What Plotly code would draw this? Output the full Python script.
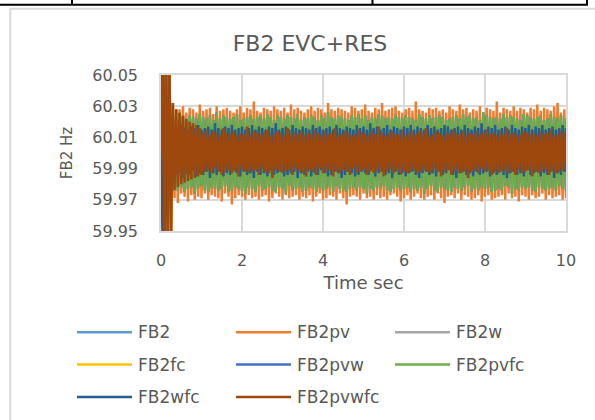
import numpy as np
import plotly.graph_objects as go

# Frequency deviation from 60 Hz, in mHz.
# Samples are evenly spaced over 0..10 s.
T_END = 10.0

FB2PV_MHZ = [
    0, 70, -80, 60, -50, 45, -60, 31, -29, 27, -32, 28, -26, 30, -28, 26, -31, 29, -27, 28,
    -30, 26, -28, 31, -29, 27, -26, 28, -30, 29, -27, 25, -28, 30, -29, 27, -31, 28, -26, 29,
    -28, 27, -33, 26, -29, 28, -27, 30, -28, 26, -30, 29, -27, 28, -29, 33, -28, 27, -30, 26,
    -28, 29, -27, 28, -31, 27, -29, 30, -26, 28, -28, 27, -30, 29, -27, 26, -29, 31, -28, 28,
    -27, 29, -30, 27, -28, 26, -29, 28, -27, 30, -31, 27, -28, 29, -26, 28, -30, 26, -29, 32,
    -27, 28, -28, 27, -30, 29, -26, 28, -29, 27, -33, 26, -28, 30, -27, 29, -28, 27, -30, 28,
    -26, 31, -29, 27, -28, 26, -30, 29, -27, 28, -29, 32, -28, 27, -30, 28, -27, 29, -26, 30,
    -28, 27, -31, 26, -29, 28, -27, 29, -30, 27, -28, 33, -26, 28, -29, 27, -30, 26, -28, 29,
    -27, 28, -30, 29, -26, 27, -29, 28, -32, 26, -28, 30, -27, 28, -29, 27, -26, 31, -30, 28,
    -27, 29, -28, 26, -30, 28, -29, 27, -27, 30, -31, 26, -28, 29, -27, 28, -30, 27, -29, 33,
    -28, 26, -27, 29, -30, 28, -26, 27, -29, 30, -28, 27, -31, 29, -27, 28, -28, 26, -30, 29,
    -27, 28, -29, 31, -28, 27, -26, 29, -30, 28, -27, 27, -29, 30, -28, 32, -27, 26, -30, 28,
    -29,
]
FB2PVFC_MHZ = [
    0, 60, -40, 55, -30, 45, -26, 24, -23, 22, -24, 25, -22, 23, -25, 21, -23, 24, -22, 23,
    -26, 22, -23, 25, -21, 23, -24, 22, -25, 24, -22, 21, -23, 26, -24, 22, -23, 24, -21, 23,
    -25, 22, -24, 23, -22, 25, -23, 21, -24, 22, -26, 23, -22, 24, -23, 22, -25, 23, -21, 24,
    -24, 22, -23, 25, -22, 23, -24, 21, -25, 24, -22, 23, -23, 22, -26, 24, -21, 23, -24, 22,
    -23, 25, -22, 21, -25, 23, -24, 22, -22, 24, -23, 23, -25, 21, -22, 24, -24, 22, -23, 26,
    -22, 23, -25, 22, -21, 24, -23, 23, -24, 22, -25, 21, -23, 24, -22, 23, -24, 25, -22, 22,
    -23, 24, -26, 21, -23, 23, -24, 22, -22, 25, -23, 24, -21, 22, -24, 23, -25, 22, -23, 24,
    -22, 23, -24, 22, -23, 24, -22, 23, -25, 22, -23, 21, -24, 25, -22, 23, -26, 22, -23, 24,
    -21, 22, -24, 23, -25, 24, -22, 23, -23, 21, -24, 22, -25, 23, -22, 24, -23, 22, -24, 25,
    -22, 23, -21, 24, -25, 22, -23, 23, -24, 21, -22, 26, -23, 24, -22, 23, -25, 22, -24, 23,
    -23, 22, -24, 25, -21, 23, -22, 24, -26, 23, -23, 22, -24, 21, -22, 25, -23, 24, -22, 23,
    -24, 22, -25, 23, -22, 24, -23, 21, -24, 22, -23, 25, -22, 23, -24, 22, -21, 24, -23, 22,
    -24,
]
FB2WFC_MHZ = [
    0, -60, 40, -30, 18, -15, 16, -13, 17, -14, 15, -12, 18, -16, 16, -13, 15, -14, 17, -11,
    16, -15, 18, -13, 15, -14, 16, -12, 17, -16, 15, -13, 19, -14, 16, -12, 15, -15, 17, -13,
    16, -14, 18, -11, 15, -13, 16, -15, 17, -12, 15, -14, 16, -13, 18, -16, 15, -12, 17, -14,
    16, -13, 15, -15, 17, -11, 16, -14, 19, -13, 15, -12, 16, -15, 17, -14, 15, -13, 18, -12,
    16, -16, 15, -13, 17, -14, 16, -12, 15, -15, 18, -13, 16, -14, 17, -11, 15, -13, 16, -15,
    17, -14, 15, -12, 18, -13, 16, -16, 15, -14, 17, -12, 16, -13, 15, -15, 18, -14, 16, -12,
    17, -13, 15, -14, 19, -11, 16, -15, 17, -13, 15, -12, 16, -14, 18, -13, 15, -16, 17, -12,
    16, -14, 15, -13, 17, -15, 16, -13, 18, -12, 15, -14, 17, -16, 16, -13, 15, -12, 18, -14,
    16, -13, 17, -15, 15, -12, 16, -14, 18, -13, 17, -11, 15, -14, 16, -16, 17, -13, 15, -12,
    18, -14, 16, -13, 15, -15, 17, -12, 16, -14, 19, -13, 15, -12, 17, -15, 16, -13, 18, -14,
    15, -12, 16, -14, 17, -16, 15, -13, 18, -12, 16, -14, 15, -13, 17, -15, 16, -11, 18, -14,
    15, -13, 17, -12, 16, -15, 18, -13, 15, -14, 16, -12, 17, -16, 15, -13, 16, -14, 18, -12,
    16,
]
FB2PVWFC_MHZ = [
    0, 90, -90, 80, -70, 60, -50, 32, -24, 28, -22, 26, -20, 24, -19, 22, -18, 20, -17, 19,
    -16, 18, -15, 16, -14, 13, -12, 15, -11, 12, -13, 14, -10, 13, -12, 11, -14, 16, -12, 13,
    -11, 12, -13, 14, -12, 11, -15, 13, -10, 12, -12, 17, -13, 11, -12, 14, -11, 13, -14, 12,
    -10, 13, -12, 15, -13, 11, -16, 12, -11, 14, -12, 13, -13, 11, -12, 16, -11, 12, -14, 13,
    -10, 12, -12, 14, -13, 11, -15, 13, -11, 12, -12, 15, -14, 13, -10, 11, -13, 14, -12, 12,
    -11, 13, -15, 16, -12, 11, -13, 12, -11, 14, -12, 13, -14, 11, -10, 12, -13, 15, -12, 13,
    -11, 12, -14, 11, -12, 14, -13, 12, -11, 17, -12, 13, -15, 11, -12, 13, -10, 14, -13, 12,
    -11, 12, -14, 15, -12, 11, -13, 13, -12, 14, -11, 12, -13, 14, -12, 13, -11, 16, -12, 11,
    -13, 12, -10, 14, -12, 13, -15, 11, -12, 13, -11, 12, -14, 15, -12, 13, -11, 12, -13, 14,
    -12, 11, -16, 13, -12, 12, -11, 14, -13, 12, -10, 13, -12, 15, -11, 12, -14, 13, -12, 11,
    -13, 14, -12, 12, -11, 16, -13, 12, -12, 13, -14, 11, -10, 12, -13, 14, -12, 13, -11, 12,
    -15, 13, -12, 11, -13, 14, -12, 12, -11, 13, -14, 15, -12, 11, -13, 12, -12, 14, -11, 13,
    -12,
]

SERIES = ["FB2", "FB2pv", "FB2w", "FB2fc", "FB2pvw", "FB2pvfc", "FB2wfc", "FB2pvwfc"]
# FB2, FB2w, FB2fc sit completely under FB2pvwfc and FB2pvw under FB2pvfc,
# so nothing of them can be read; they are taken as equal to the trace on top.
SERIES_MHZ = {
    "FB2": FB2PVWFC_MHZ,
    "FB2pv": FB2PV_MHZ,
    "FB2w": FB2PVWFC_MHZ,
    "FB2fc": FB2PVWFC_MHZ,
    "FB2pvw": FB2PVFC_MHZ,
    "FB2pvfc": FB2PVFC_MHZ,
    "FB2wfc": FB2WFC_MHZ,
    "FB2pvwfc": FB2PVWFC_MHZ,
}
COLORS = {
    "FB2": "#5B9BD5",
    "FB2pv": "#ED7D31",
    "FB2w": "#A5A5A5",
    "FB2fc": "#FFC000",
    "FB2pvw": "#4472C4",
    "FB2pvfc": "#70AD47",
    "FB2wfc": "#255E91",
    "FB2pvwfc": "#9E480E",
}

X_TICKS = [0, 2, 4, 6, 8, 10]
Y_TICKS = [59.95, 59.97, 59.99, 60.01, 60.03, 60.05]

TXT = "#595959"
GRID = "#d9d9d9"
FONT = "DejaVu Sans"

W, H = 595, 420
# plot area in pixels
PL, PR, PT, PB = 161, 566, 75, 231.5


def px_x(px):
    return (px - PL) / (PR - PL)


def px_y(py):
    return (PB - py) / (PB - PT)


fig = go.Figure()
for name in SERIES:
    vals = 60 + np.array(SERIES_MHZ[name]) / 1000.0
    t = np.linspace(0, T_END, len(vals))
    fig.add_trace(go.Scatter(
        x=t, y=vals, mode="lines", name=name,
        line={"color": COLORS[name], "width": 2.5},
        showlegend=False,
    ))

# legend drawn by hand: long Excel-style line samples, 3 columns
shapes = []
annotations = []
for i, name in enumerate(SERIES):
    col, row = i % 3, i // 3
    x0 = 77 + col * 159
    y0 = 333 + row * 32.5
    shapes.append(dict(
        type="line", xref="paper", yref="paper",
        x0=px_x(x0), x1=px_x(x0 + 55), y0=px_y(y0), y1=px_y(y0),
        line={"color": COLORS[name], "width": 2.5},
    ))
    annotations.append(dict(
        xref="paper", yref="paper", x=px_x(x0 + 59), y=px_y(y0),
        xanchor="left", yanchor="middle", text=name, showarrow=False,
        font={"family": FONT, "size": 17, "color": TXT},
    ))

# chart area border and the table rules around it
shapes.append(dict(type="line", xref="paper", yref="paper",
                   x0=px_x(10.3), x1=px_x(10.3), y0=px_y(8.5), y1=px_y(H + 2),
                   line={"color": GRID, "width": 2}))
shapes.append(dict(type="line", xref="paper", yref="paper",
                   x0=px_x(10), x1=px_x(W + 2), y0=px_y(8.5), y1=px_y(8.5),
                   line={"color": GRID, "width": 2}))
shapes.append(dict(type="line", xref="paper", yref="paper",
                   x0=px_x(-2), x1=px_x(588), y0=px_y(4.6), y1=px_y(4.6),
                   line={"color": "black", "width": 2}))
for vx in (72, 372.5, 587):
    shapes.append(dict(type="line", xref="paper", yref="paper",
                       x0=px_x(vx), x1=px_x(vx), y0=px_y(-2), y1=px_y(4.6),
                       line={"color": "black", "width": 2}))

fig.update_layout(
    width=W, height=H,
    margin={"l": PL, "r": W - PR, "t": PT, "b": H - PB},
    paper_bgcolor="white", plot_bgcolor="white",
    title={"text": "FB2 EVC+RES", "x": 310 / W, "xanchor": "center",
           "xref": "container", "y": 1 - 43 / H, "yanchor": "middle",
           "font": {"family": FONT, "size": 22, "color": TXT}},
    xaxis={
        "range": [0, 10], "tickvals": X_TICKS, "ticktext": [str(v) for v in X_TICKS],
        "showgrid": True, "gridcolor": GRID, "gridwidth": 1.5,
        "showline": True, "linecolor": GRID, "linewidth": 1.5, "mirror": True,
        "zeroline": False, "ticks": "outside", "ticklen": 14, "tickcolor": "rgba(0,0,0,0)",
        "tickfont": {"family": FONT, "size": 16, "color": TXT},
        "title": {"text": "Time sec", "standoff": 7,
                  "font": {"family": FONT, "size": 18, "color": TXT}},
    },
    yaxis={
        "range": [59.95, 60.05], "tickvals": Y_TICKS, "ticktext": [f"{v:.2f}" for v in Y_TICKS],
        "showgrid": True, "gridcolor": GRID, "gridwidth": 1.5,
        "showline": True, "linecolor": GRID, "linewidth": 1.5, "mirror": True,
        "zeroline": False, "ticks": "outside", "ticklen": 18, "tickcolor": "rgba(0,0,0,0)",
        "tickfont": {"family": FONT, "size": 16, "color": TXT},
        "title": {"text": "FB2 Hz", "standoff": 16,
                  "font": {"family": FONT, "size": 15, "color": TXT}},
    },
    shapes=shapes,
    annotations=annotations,
    showlegend=False,
)

# the page's default 8px body margin would shift the whole figure
fig.write_html(
    "out.html",
    config={"displayModeBar": False},
    post_script="document.body.style.margin = '0';",
)
